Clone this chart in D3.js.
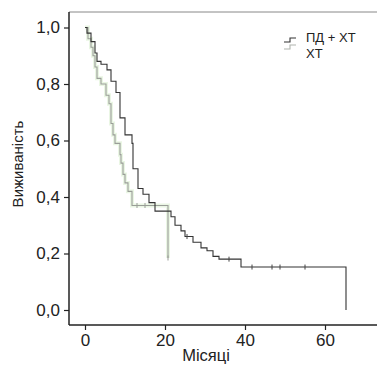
<!DOCTYPE html>
<meta charset="utf-8">
<style>
body { margin: 0; background: #fff; }
svg { font-family: "Liberation Sans Narrow", "Arial Narrow", "Liberation Sans", sans-serif; }
.tick text { font-size: 17px; fill: #222; }
.lbl { font-size: 16.5px; fill: #222; }
.leg { font-size: 13px; fill: #222; }
</style>
<body>
<script src="https://cdn.jsdelivr.net/npm/d3@7"></script>
<script>
// Kaplan-Meier curves, months vs survival
var pdTimes = [0, 0.5, 1.5, 2.5, 3, 4, 5.5, 6.5, 7.75, 8.75, 10, 11.75, 12, 13.25, 14.5, 16, 17.5, 21.5, 22.5, 24, 25, 27, 29, 30.5, 32, 33.5, 39, 65.25];
var pdSurv  = [1.0, 0.98, 0.95, 0.91, 0.88, 0.87, 0.85, 0.81, 0.77, 0.68, 0.62, 0.59, 0.50, 0.43, 0.41, 0.38, 0.35, 0.33, 0.30, 0.28, 0.26, 0.24, 0.22, 0.21, 0.19, 0.18, 0.152, 0.0];
var pdCensT = [25.5, 36, 41.75, 46.75, 48.75, 55];

var xtTimes = [0, 0.75, 1.5, 2, 2.5, 3, 4, 5.25, 6, 6.5, 7, 7.5, 8.75, 9, 9.5, 10, 10.75, 11.75, 20.75];
var xtSurv  = [1.0, 0.96, 0.93, 0.90, 0.86, 0.82, 0.80, 0.76, 0.73, 0.66, 0.62, 0.59, 0.55, 0.52, 0.48, 0.45, 0.42, 0.37, 0.184];
var xtCensT = [13, 15, 20.75];

var xTicks = [0, 20, 40, 60];
var yTicks = [0, 0.2, 0.4, 0.6, 0.8, 1.0];
var seriesNames = ["ПД + ХТ", "ХТ"];

var W = 377, H = 368;
var x = d3.scaleLinear().domain([-4, 73]).range([69, 377]);
var y = d3.scaleLinear().domain([0, 1]).range([310, 27.5]);
var axisY = 325, topY = 12;

var svg = d3.select("body").append("svg").attr("width", W).attr("height", H);

// top border
svg.append("line").attr("x1", 69).attr("x2", W).attr("y1", topY).attr("y2", topY)
  .attr("stroke", "#888").attr("stroke-width", 1);

var fmt = function(d) { return d3.format(".1f")(d).replace(".", ","); };

var gy = svg.append("g").attr("transform", "translate(69,0)")
  .call(d3.axisLeft(y).tickValues(yTicks).tickFormat(fmt).tickSize(5).tickPadding(4));
gy.select(".domain").remove();
gy.append("line").attr("x1", 0).attr("x2", 0).attr("y1", topY).attr("y2", axisY)
  .attr("stroke", "#222").attr("stroke-width", 1.5);

var gx = svg.append("g").attr("transform", "translate(0," + axisY + ")")
  .call(d3.axisBottom(x).tickValues(xTicks).tickSize(5).tickPadding(4));
gx.select(".domain").remove();
gx.append("line").attr("x1", 69).attr("x2", W).attr("y1", 0).attr("y2", 0)
  .attr("stroke", "#222").attr("stroke-width", 1.5);
svg.selectAll(".tick line").attr("stroke", "#222").attr("stroke-width", 1.2);

svg.append("text").attr("class", "lbl").style("font-size", "15px")
  .attr("transform", "translate(23,164) rotate(-90)")
  .attr("text-anchor", "middle").text("Виживаність");
svg.append("text").attr("class", "lbl")
  .attr("x", 206).attr("y", 361).attr("text-anchor", "middle").text("Місяці");

function pts(ts, ss) { return ts.map(function(t, i) { return [t, ss[i]]; }); }
function survAt(ts, ss, t) {
  var s = ss[0];
  for (var i = 0; i < ts.length; i++) if (ts[i] <= t) s = ss[i];
  return s;
}
var line = d3.line().x(function(d) { return x(d[0]); }).y(function(d) { return y(d[1]); })
  .curve(d3.curveStepAfter);

// XT: light grey curve with a faint green halo
var xt = pts(xtTimes, xtSurv);
svg.append("path").attr("d", line(xt)).attr("fill", "none")
  .attr("stroke", "#eaf6e4").attr("stroke-width", 4);
svg.append("path").attr("d", line(xt)).attr("fill", "none")
  .attr("stroke", "#9a9e98").attr("stroke-width", 1.1);

var pd = pts(pdTimes, pdSurv);
svg.append("path").attr("d", line(pd)).attr("fill", "none")
  .attr("stroke", "#333").attr("stroke-width", 1.1);

function censor(ts, tArr, sArr, col) {
  svg.selectAll(null).data(ts).enter().append("line")
    .attr("x1", function(t) { return x(t); }).attr("x2", function(t) { return x(t); })
    .attr("y1", function(t) { return y(survAt(tArr, sArr, t)) - 2.5; })
    .attr("y2", function(t) { return y(survAt(tArr, sArr, t)) + 2.5; })
    .attr("stroke", col).attr("stroke-width", 1);
}
censor(pdCensT, pdTimes, pdSurv, "#444");
censor(xtCensT, xtTimes, xtSurv, "#9a9e98");

// legend
var leg = svg.append("g");
var legCols = ["#333", "#b0b4ae"];
seriesNames.forEach(function(name, i) {
  var ly = 38 + i * 16;
  var sy = 40 + i * 7;
  leg.append("path")
    .attr("d", "M284," + (sy + 2) + "H290V" + (sy - 2) + "H296")
    .attr("fill", "none").attr("stroke", legCols[i]).attr("stroke-width", 1.1);
  leg.append("text").attr("class", "leg").attr("x", 306).attr("y", ly + 4).text(name);
});
</script>
</body>
